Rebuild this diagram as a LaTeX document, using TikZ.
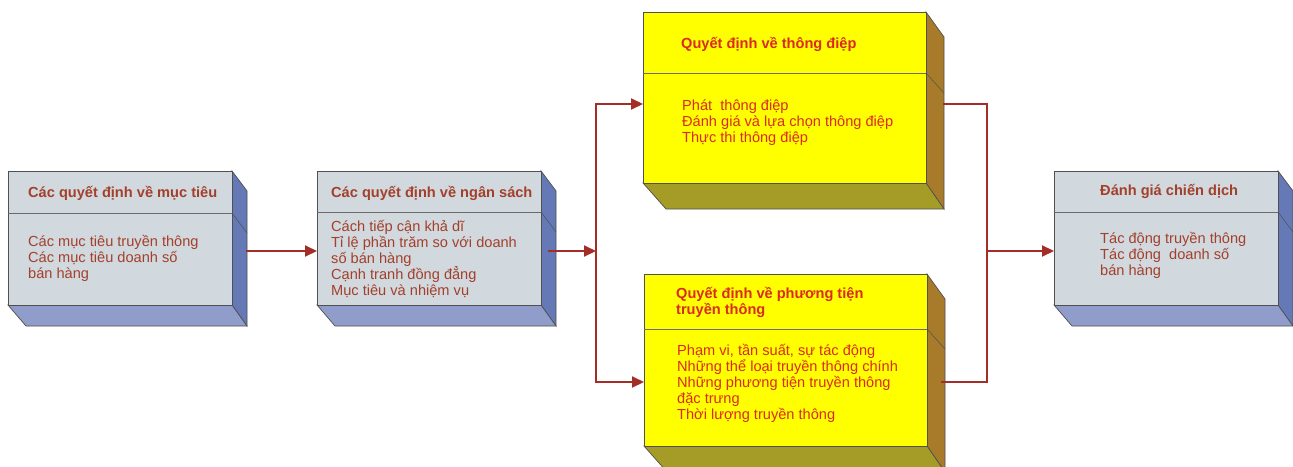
\documentclass[tikz,border=0pt]{standalone}
\usepackage{fontspec}
\setmainfont{Liberation Sans}
\usetikzlibrary{arrows.meta,calc}
\definecolor{gfront}{HTML}{D1D8DE}
\definecolor{gside}{HTML}{6479B6}
\definecolor{gbot}{HTML}{909DCB}
\definecolor{yfront}{HTML}{FFFF00}
\definecolor{yside}{HTML}{A87B2B}
\definecolor{ybot}{HTML}{A59B27}
\definecolor{edgec}{HTML}{505050}
\definecolor{gtext}{HTML}{A3402B}
\definecolor{ytext}{HTML}{D92B1F}
\definecolor{connc}{HTML}{A32E27}
% #1 name, #2 L, #3 T, #4 R, #5 B, #6 divider y, #7 colour prefix, #8 right depth, #9 bottom depth
\newcommand\solidbox[9]{%
  \fill[#7side, draw=edgec, line width=0.7] (#4,#3) -- (#4+#8,#3+#9-1) -- (#4+#8,#5+#9) -- (#4,#5) -- cycle;
  \fill[#7bot, draw=edgec, line width=0.7] (#2,#5) -- (#2+#9-3,#5+#9) -- (#4+#8,#5+#9) -- (#4,#5) -- cycle;
  \draw[edgec, line width=0.5] (#4,#6) -- (#4+#8,#6+20);
  \node[draw=edgec, fill=#7front, line width=0.7, inner sep=0, minimum width=#4-#2, minimum height=#5-#3, anchor=north west] (#1) at (#2,#3) {};
  \draw[edgec!85, line width=0.7] (#2,#6) -- (#4,#6);
}
\newcommand\lines[1]{\parbox[t]{300pt}{\lineskiplimit=-100pt\relax #1}}
\tikzset{
  txt/.style={anchor=base west, inner sep=0, font=\fontsize{14.6}{16}\selectfont},
  gtxt/.style={txt, text=gtext},
  ytxt/.style={txt, text=ytext},
  conn/.style={draw=connc, line width=2},
  arr/.style={conn, -{Triangle[length=12pt,width=11pt]}},
}
\begin{document}
\begin{tikzpicture}[x=1pt,y=-1pt]
\useasboundingbox (0,0) rectangle (1293,466);
\clip (0,0) rectangle (1293,466);
\fill[white] (0,0) rectangle (1293,466);

\solidbox{b1}{8}{171}{232}{305}{213}{g}{15}{21}
\solidbox{b2}{317}{171}{541}{305}{212}{g}{15}{21}
\solidbox{b3}{643}{12}{926}{183}{73}{y}{18}{26}
\solidbox{b4}{644}{274}{927}{446}{329}{y}{18}{26}
\solidbox{b5}{1054}{171}{1278}{305}{212}{g}{15}{21}

\node[gtxt] (t1) at (28,197) {\bfseries Các quyết định về mục tiêu};
\node[gtxt] (d1) at (28,246) {\lines{Các mục tiêu truyền thông\\Các mục tiêu doanh số\\bán hàng}};

\node[gtxt] (t2) at (331,197) {\bfseries Các quyết định về ngân sách};
\node[gtxt] (d2) at (331,231) {\lines{Cách tiếp cận khả dĩ\\Tỉ lệ phần trăm so với doanh\\số bán hàng\\Cạnh tranh đồng đẳng\\Mục tiêu và nhiệm vụ}};

\node[ytxt] (t3) at (681,48) {\bfseries Quyết định về thông điệp};
\node[ytxt] (d3) at (682,110) {\lines{Phát\ \ thông điệp\\Đánh giá và lựa chọn thông điệp\\Thực thi thông điệp}};

\node[ytxt] (t4) at (676,298) {\lines{\bfseries Quyết định về phương tiện\\truyền thông}};
\node[ytxt] (d4) at (677,355) {\lines{Phạm vi, tần suất, sự tác động\\Những thể loại truyền thông chính\\Những phương tiện truyền thông\\đặc trưng\\Thời lượng truyền thông}};

\node[gtxt] (t5) at (1100,195) {\bfseries Đánh giá chiến dịch};
\node[gtxt] (d5) at (1100,243) {\lines{Tác động truyền thông\\Tác động\ \ doanh số\\bán hàng}};

\coordinate (b1o) at (246,251);
\coordinate (b2o) at (548,251);
\coordinate (j1) at (596,251);
\coordinate (b3o) at (943,104);
\coordinate (b4o) at (941,382);
\coordinate (j2) at (987,251);
\coordinate (b3i) at (620,104);
\coordinate (b4i) at (620,382);

\draw[arr] (b1o) -- (b1o -| b2.west);
\draw[arr] (b2o) -- (j1);
\draw[arr] (j1) |- (b3.west |- b3i);
\draw[arr] (j1) |- (b4.west |- b4i);
\draw[conn] (b3o) -| (j2);
\draw[conn] (b4o) -| (j2);
\draw[arr] (j2) -- (j2 -| b5.west);
\end{tikzpicture}
\end{document}
